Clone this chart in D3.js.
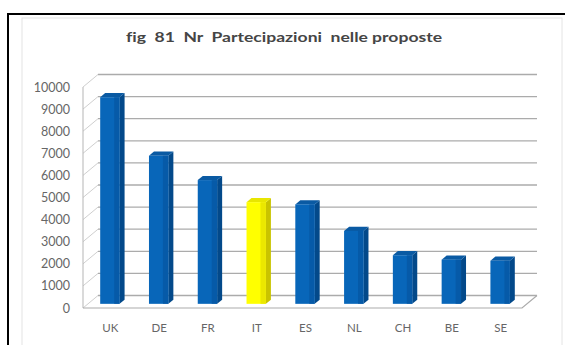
<!DOCTYPE html>
<html>
<head>
<meta charset="utf-8">
<script src="https://cdn.jsdelivr.net/npm/d3@7/dist/d3.min.js"></script>
<style>
  html, body { margin: 0; padding: 0; background: #fff; }
  svg { display: block; }
  text { font-variant-ligatures: none; }
</style>
</head>
<body>
<svg id="chart" width="565" height="345"></svg>
<script>
// Participations per country
const countries = ["UK", "DE", "FR", "IT", "ES", "NL", "CH", "BE", "SE"];
const participations = [9350, 6700, 5600, 4600, 4500, 3300, 2200, 2000, 1950];
const highlighted = ["IT"];
const yTicks = [0, 1000, 2000, 3000, 4000, 5000, 6000, 7000, 8000, 9000, 10000];
const title = "fig  81  Nr  Partecipazioni  nelle proposte";

const svg = d3.select("#chart");
const font = "Lato, 'Open Sans', sans-serif";

// frame
svg.append("rect").attr("x", 22).attr("y", 18).attr("width", 540).attr("height", 340)
  .attr("fill", "none").attr("stroke", "#e4e4e4").attr("stroke-width", 1);
svg.append("path").attr("d", "M8,350 L8,14 L570,14")
  .attr("fill", "none").attr("stroke", "#000").attr("stroke-width", 2);

// title
svg.append("text").attr("x", 284).attr("y", 42).attr("text-anchor", "middle")
  .attr("font-family", font).attr("font-size", 13).attr("font-weight", "bold")
  .attr("fill", "#454545").attr("textLength", 316).attr("lengthAdjust", "spacingAndGlyphs")
  .attr("xml:space", "preserve").text(title);

// plot geometry (oblique 3D)
const x = d3.scaleBand().domain(countries).range([83, 522]).paddingInner(0.5).paddingOuter(0.25);
const xBand = d3.scaleBand().domain(countries).range([83, 522]);
const y = d3.scaleLinear().domain([0, 10000]).range([308, 87]);
const DX = 15, DY = -12.5;   // full floor depth offset
const x0 = 83, x1 = 522;

const grid = svg.append("g").attr("fill", "none");
// back wall gridlines
grid.selectAll("line.g").data(yTicks).join("line")
  .attr("x1", x0 + DX).attr("x2", x1 + DX)
  .attr("y1", d => y(d) + DY).attr("y2", d => y(d) + DY)
  .attr("stroke", "#ababab").attr("stroke-width", 1.3);
// side wall diagonals
grid.selectAll("line.d").data(yTicks).join("line")
  .attr("x1", x0).attr("x2", x0 + DX)
  .attr("y1", d => y(d)).attr("y2", d => y(d) + DY)
  .attr("stroke", "#cfcfcf").attr("stroke-width", 1);
// front vertical axis
grid.append("line").attr("x1", x0).attr("x2", x0).attr("y1", y(0)).attr("y2", y(10000))
  .attr("stroke", "#b5b5b5").attr("stroke-width", 1);
// floor outline
grid.append("path")
  .attr("d", `M${x0},${y(0)} L${x1},${y(0)} L${x1 + DX},${y(0) + DY}`)
  .attr("stroke", "#ababab").attr("stroke-width", 1.2);

// y labels
svg.append("g").selectAll("text").data(yTicks).join("text")
  .attr("x", 70).attr("y", d => y(d) + 4.5).attr("text-anchor", "end")
  .attr("font-family", font).attr("font-size", 12.5).attr("fill", "#666")
  .text(d => d);

// x labels
svg.append("g").selectAll("text").data(countries).join("text")
  .attr("x", d => xBand(d) + xBand.bandwidth() / 2 + 3).attr("y", 332).attr("text-anchor", "middle")
  .attr("font-family", font).attr("font-size", 11.5).attr("fill", "#666")
  .text(d => d);

// 3D columns sitting in the middle third of the floor depth
const fdx = DX / 3, fdy = DY / 3;
const bars = svg.append("g");
countries.forEach((c, i) => {
  const v = participations[i];
  const hl = highlighted.includes(c);
  const front = hl ? "#ffff00" : "#0866b9";
  const side = hl ? "#c9c400" : "#03498a";
  const top = hl ? "#e8e600" : "#0a5aa3";
  const w = x.bandwidth() - fdx;
  const bx = x(c) + fdx;
  const yb = y(0) + fdy, yt = y(v) + fdy;
  const g = bars.append("g");
  // side
  g.append("path").attr("d",
    `M${bx + w},${yb} L${bx + w + fdx},${yb + fdy} L${bx + w + fdx},${yt + fdy} L${bx + w},${yt} Z`)
    .attr("fill", side);
  // top
  g.append("path").attr("d",
    `M${bx},${yt} L${bx + fdx},${yt + fdy} L${bx + w + fdx},${yt + fdy} L${bx + w},${yt} Z`)
    .attr("fill", top);
  // front
  g.append("rect").attr("x", bx).attr("y", yt).attr("width", w).attr("height", yb - yt)
    .attr("fill", front);
  // soft shading toward the right edge of the front face
  g.append("rect").attr("x", bx + w * 0.72).attr("y", yt).attr("width", w * 0.28).attr("height", yb - yt)
    .attr("fill", hl ? "#e6e200" : "#0658a4").attr("opacity", 0.8);
});
</script>
</body>
</html>
